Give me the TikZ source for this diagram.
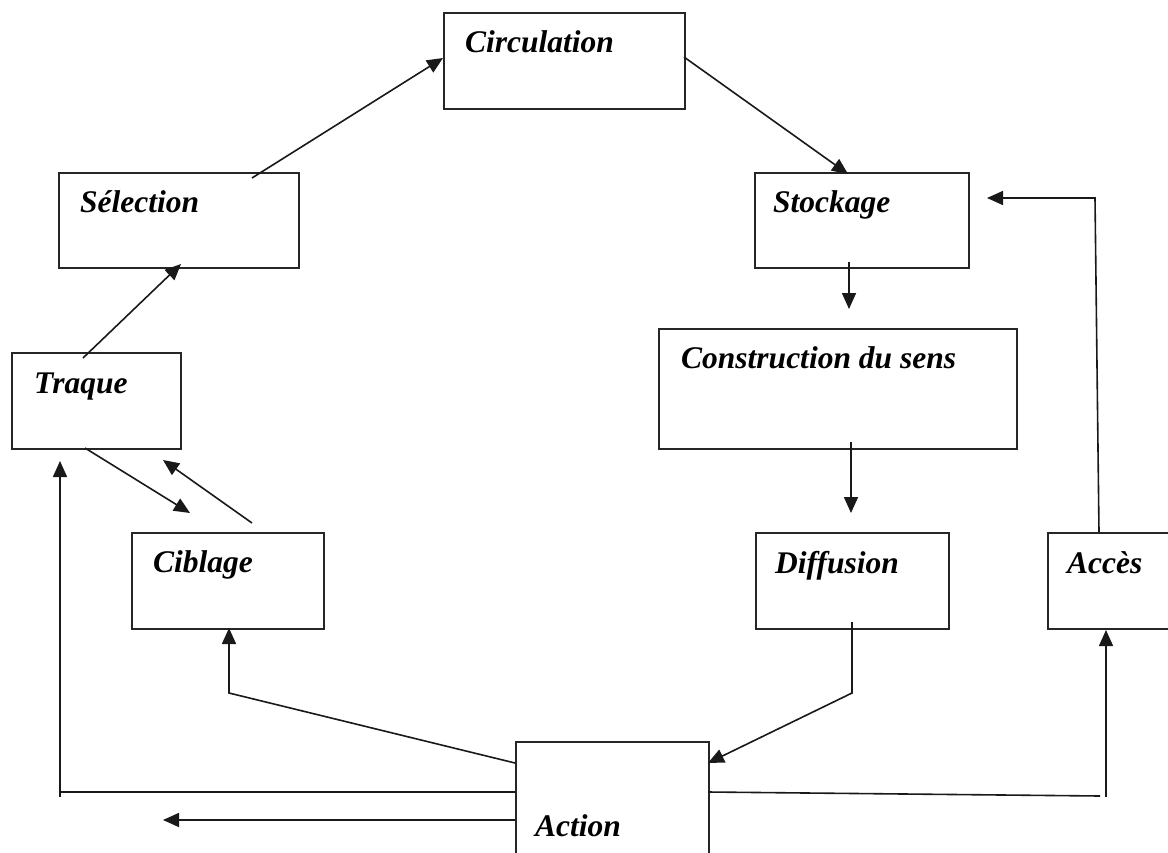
\documentclass[tikz,border=0pt]{standalone}
\usepackage{fontspec}
\setmainfont{Liberation Serif}
\usetikzlibrary{arrows.meta}
\begin{document}
\begin{tikzpicture}[x=1pt,y=-1pt,
  box/.style={draw=black!85,line width=1.7pt,rectangle,inner sep=0pt,anchor=north west},
  lbl/.style={anchor=base west,inner sep=0pt,font=\fontsize{31.5}{31.5}\selectfont\bfseries\itshape},
  link/.style={draw=black!90,line width=1.6pt},
  arr/.style={link,-{Triangle[length=16pt,width=14pt]}}]
\useasboundingbox (0,0) rectangle (1168,852);
\clip (0,0) rectangle (1168,852);
% boxes
\node[box,minimum width=241pt,minimum height=96pt] (circ) at (443,12) {};
\node[box,minimum width=240pt,minimum height=95pt] (sel) at (58,172) {};
\node[box,minimum width=214pt,minimum height=95pt] (stock) at (754,172) {};
\node[box,minimum width=358pt,minimum height=120pt] (cons) at (658,328) {};
\node[box,minimum width=169pt,minimum height=96pt] (traq) at (11,352) {};
\node[box,minimum width=192pt,minimum height=96pt] (cib) at (131,532) {};
\node[box,minimum width=193pt,minimum height=96pt] (diff) at (755,532) {};
\node[box,minimum width=140pt,minimum height=96pt] (acc) at (1047,532) {};
\node[box,minimum width=193pt,minimum height=130pt] (act) at (515,741) {};
% labels
\node[lbl] (circ-t) at (465,52) {Circulation};
\node[lbl] (sel-t) at (80,212) {Sélection};
\node[lbl] (stock-t) at (773,212) {Stockage};
\node[lbl] (cons-t) at (681,368) {Construction du sens};
\node[lbl] (traq-t) at (34,393) {Traque};
\node[lbl] (cib-t) at (153,572) {Ciblage};
\node[lbl] (diff-t) at (775,573) {Diffusion};
\node[lbl] (acc-t) at (1067,573) {Accès};
\node[lbl] (act-t) at (535,836) {Action};
% connector end points
\coordinate (selOut) at (252,178);
\coordinate (circIn) at (443,58);
\coordinate (circOut) at (684,57);
\coordinate (stockIn) at (848,174);
\coordinate (traqOut) at (83,358);
\coordinate (selIn) at (181,264);
\coordinate (stockOut) at (849,262);
\coordinate (consIn) at (849,309);
\coordinate (consOut) at (851,442);
\coordinate (diffIn) at (851,513);
\coordinate (traqOutB) at (85,448);
\coordinate (cibIn) at (190,513);
\coordinate (cibOut) at (252,523);
\coordinate (traqIn) at (163,460);
\coordinate (accOut) at (1099,532);
\coordinate (accBend) at (1095,198);
\coordinate (stockInR) at (987,198);
\coordinate (diffOut) at (852,622);
\coordinate (diffBend) at (852,693);
\coordinate (actInR) at (708,763);
\coordinate (actOutA) at (515,763);
\coordinate (cibBend) at (229,693);
\coordinate (cibInB) at (229,628);
\coordinate (actOutB) at (515,792);
\coordinate (traqBend) at (60,792);
\coordinate (traqInB) at (60,461);
\coordinate (actOutC) at (515,820);
\coordinate (leftEnd) at (163,820);
\coordinate (actOutR) at (708,792);
\coordinate (accBendA) at (1100,796);
\coordinate (accFoot) at (1106,797);
\coordinate (accIn) at (1106,630);
% connectors
\draw[arr] (selOut) -- (circIn);
\draw[arr] (circOut) -- (stockIn);
\draw[arr] (traqOut) -- (selIn);
\draw[arr] (stockOut) -- (consIn);
\draw[arr] (consOut) -- (diffIn);
\draw[arr] (traqOutB) -- (cibIn);
\draw[arr] (cibOut) -- (traqIn);
\draw[arr] (accOut) -- (accBend) -- (stockInR);
\draw[arr] (diffOut) -- (diffBend) -- (actInR);
\draw[arr] (actOutA) -- (cibBend) -- (cibInB);
\draw[link] (actOutB) -- (traqBend) -- ++(0,5);
\draw[arr] (traqBend) -- (traqInB);
\draw[arr] (actOutC) -- (leftEnd);
\draw[link] (actOutR) -- (accBendA);
\draw[arr] (accFoot) -- (accIn);
\end{tikzpicture}
\end{document}
